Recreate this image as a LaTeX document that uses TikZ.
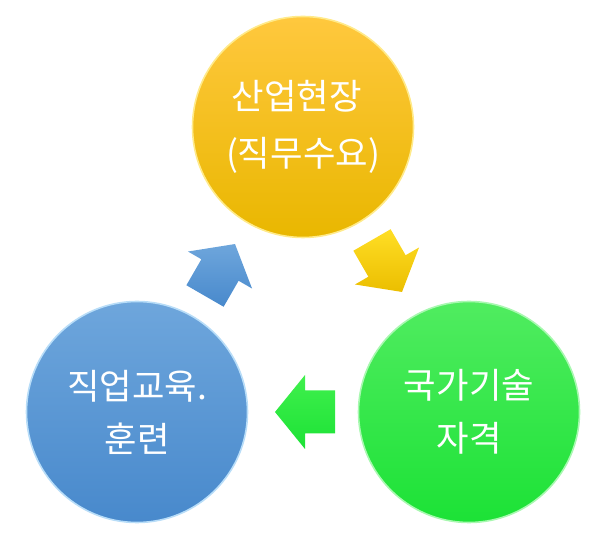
\documentclass[tikz,border=0pt]{standalone}
\usepackage{fontspec}
\newfontfamily\kofont{Noto Sans CJK KR}

\definecolor{goldtop}{HTML}{FFC83E}
\definecolor{goldbot}{HTML}{E9B700}
\definecolor{goldrim}{HTML}{FFEA8A}
\definecolor{bluetop}{HTML}{6EA6DC}
\definecolor{bluebot}{HTML}{4889CC}
\definecolor{bluerim}{HTML}{B8DDF8}
\definecolor{greentop}{HTML}{50EC60}
\definecolor{greenbot}{HTML}{1CE236}
\definecolor{greenrim}{HTML}{A8F8B0}

\begin{document}
\begin{tikzpicture}[
    x=0.75pt,y=0.75pt,
    stage/.style={circle,minimum size=165.75pt,inner sep=0pt,line width=1.2pt,
        text=white,align=center},
    lbl/.style={font={\kofont\fontsize{26.5}{39.75}\selectfont}},
    flow/.style={draw=none}
]
\useasboundingbox (0,0) rectangle (598,541);

% stages of the cycle
\node[stage,lbl,top color=goldtop,bottom color=goldbot,draw=goldrim,
    font={\kofont\fontsize{26.5}{42.75}\selectfont}]
    (field) at (303,414) {산업현장\kern0.35em\\(직무수요)};
\node[stage,lbl,top color=greentop,bottom color=greenbot,draw=greenrim]
    (license) at (469,129) {국가기술\\자격};
\node[stage,lbl,top color=bluetop,bottom color=bluebot,draw=bluerim]
    (training) at (137,129) {직업교육.\\훈련};

% block arrows between the stages
\shade[flow,top color=goldtop!60!yellow,bottom color=goldbot!90!yellow,shift={(372,301)},rotate=-60]
    (0,-21.5) -- (30,-21.5) -- (30,-37) -- (60,0) -- (30,37) -- (30,21.5) -- (0,21.5) -- cycle;
\shade[flow,top color=greentop!80!green,bottom color=greenbot,shift={(335,129)},rotate=180]
    (0,-21.5) -- (30,-21.5) -- (30,-37) -- (60,0) -- (30,37) -- (30,21.5) -- (0,21.5) -- cycle;
\shade[flow,top color=bluetop,bottom color=bluebot,shift={(205,245)},rotate=60]
    (0,-21.5) -- (30,-21.5) -- (30,-37) -- (60,0) -- (30,37) -- (30,21.5) -- (0,21.5) -- cycle;

\end{tikzpicture}
\end{document}
